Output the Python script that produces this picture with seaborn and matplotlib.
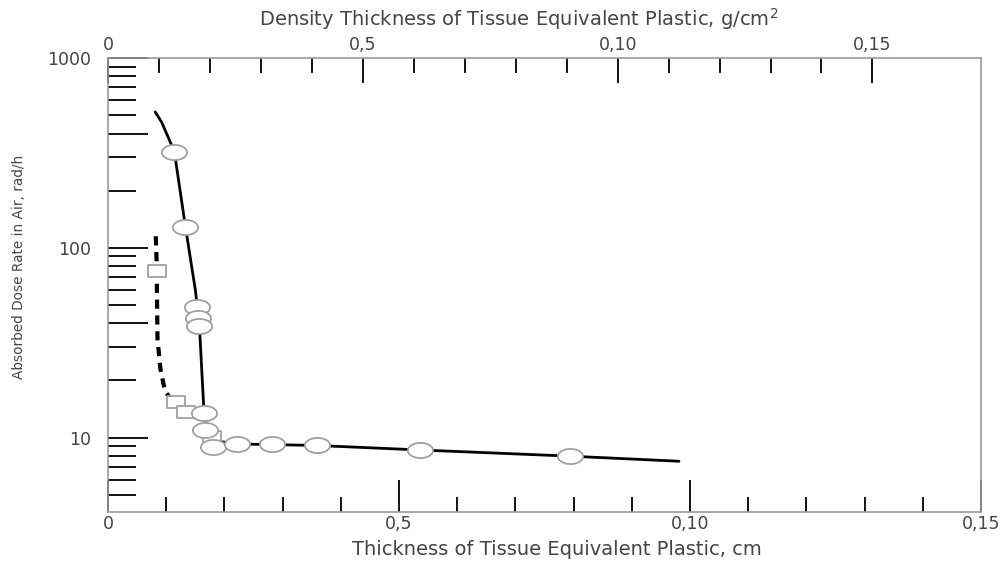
import numpy as np
import matplotlib
matplotlib.use("Agg")
import matplotlib.pyplot as plt
from matplotlib.path import Path
from matplotlib.ticker import FixedLocator, NullFormatter, FixedFormatter
import seaborn as sns

# measured points (thickness in cm, dose rate in rad/h)
circle_x = [0.0114, 0.0133, 0.0153, 0.0155, 0.0157, 0.0165, 0.0167, 0.0181, 0.0222, 0.0281, 0.0359, 0.0536, 0.0793]
circle_y = [320, 129, 48.9, 42.8, 38.9, 13.5, 11.0, 8.9, 9.2, 9.2, 9.1, 8.55, 7.95]

square_x = [0.00845, 0.0117, 0.01345, 0.0178]
square_y = [75, 15.3, 13.7, 10.1]

# fitted curves
solid_x = [0.0081, 0.0092, 0.0107, 0.0114, 0.0133, 0.0150, 0.0157, 0.0162, 0.0165, 0.0172, 0.0195, 0.0222, 0.0281, 0.0359, 0.0536, 0.0793, 0.0981]
solid_y = [520, 460, 360, 320, 129, 60, 38.9, 20, 13.5, 10.6, 9.5, 9.25, 9.18, 9.08, 8.6, 7.98, 7.5]

dash_x = [0.0082, 0.00835, 0.0084, 0.0085, 0.0090, 0.0098, 0.0108, 0.0117, 0.01345]
dash_y = [115, 85, 60, 33, 23, 17.5, 16.0, 15.3, 13.7]

x_ticks = [0, 0.05, 0.10, 0.15]
x_tick_labels = ["0", "0,5", "0,10", "0,15"]
top_tick_labels = ["0", "0,5", "0,10", "0,15"]
density = 1.142

sns.set_style("white")
plt.rcParams["font.family"] = ["DejaVu Sans"]
txt = "#444444"

fig = plt.figure(figsize=(10.04, 5.61), dpi=100)
ax = fig.add_axes([0.1076, 0.0873, 0.8695, 0.8093])

sns.lineplot(x=solid_x, y=solid_y, sort=False, estimator=None, color="black", lw=2, ax=ax, zorder=2)
sns.lineplot(x=dash_x, y=dash_y, sort=False, estimator=None, color="black", lw=3,
             linestyle=(0, (2.2, 1.6)), ax=ax, zorder=2)

# elongated markers like the original
t = np.linspace(0, 2 * np.pi, 60)
ellipse = Path(np.column_stack([np.cos(t), 0.6 * np.sin(t)]), closed=True)
rect = Path([(-1, -0.65), (1, -0.65), (1, 0.65), (-1, 0.65), (-1, -0.65)], closed=True)

sns.scatterplot(x=square_x, y=square_y, marker=rect, s=180, color="white", edgecolor="#a0a0a0",
                linewidth=1.3, ax=ax, zorder=3)
sns.scatterplot(x=circle_x, y=circle_y, marker=ellipse, s=330, color="white", edgecolor="#a0a0a0",
                linewidth=1.3, ax=ax, zorder=4)

ax.set_yscale("log")
ax.set_xlim(0, 0.15)
ax.set_ylim(4.05, 1000)

for s in ax.spines.values():
    s.set_color("#9a9a9a")
    s.set_linewidth(1.2)

# bottom axis
ax.xaxis.set_major_locator(FixedLocator(x_ticks))
ax.xaxis.set_major_formatter(FixedFormatter(x_tick_labels))
ax.xaxis.set_minor_locator(FixedLocator(np.arange(0.01, 0.15, 0.01)))
ax.tick_params(axis="x", which="major", direction="in", length=23, width=1.3, color="black",
               labelsize=12.5, labelcolor=txt, pad=2, bottom=True, top=False)
ax.tick_params(axis="x", which="minor", direction="in", length=11, width=1.3, color="black",
               bottom=True, top=False)

# left axis
y_major = [10, 40, 100, 400, 1000]
ax.yaxis.set_major_locator(FixedLocator(y_major))
ax.yaxis.set_major_formatter(FixedFormatter(["10", "", "100", "", "1000"]))
minor = [m * d for d in (1, 10, 100) for m in (2, 3, 5, 6, 7, 8, 9)]
ax.yaxis.set_minor_locator(FixedLocator([v for v in minor if 4 < v < 1000]))
ax.yaxis.set_minor_formatter(NullFormatter())
ax.tick_params(axis="y", which="major", direction="in", length=29, width=1.3, color="black",
               labelsize=12.5, labelcolor=txt, pad=12, left=True, right=False)
ax.tick_params(axis="y", which="minor", direction="in", length=20, width=1.3, color="black",
               left=True, right=False)

ax.set_xlabel("Thickness of Tissue Equivalent Plastic, cm", fontsize=14, color=txt)
ax.xaxis.set_label_coords(0.514, -0.062)
ax.set_ylabel("Absorbed Dose Rate in Air, rad/h", fontsize=9.8, color=txt,
              family=["Liberation Sans Narrow", "DejaVu Sans"])
ax.yaxis.set_label_coords(-0.094, 0.54)

# top axis in g/cm2
top = ax.secondary_xaxis("top", functions=(lambda x: x * density, lambda x: x / density))
top.xaxis.set_major_locator(FixedLocator(x_ticks))
top.xaxis.set_major_formatter(FixedFormatter(top_tick_labels))
top.xaxis.set_minor_locator(FixedLocator(np.arange(0.01, 0.16, 0.01)))
top.tick_params(which="major", direction="in", length=18, width=1.3, color="black",
                labelsize=12.5, labelcolor=txt, pad=3)
top.tick_params(which="minor", direction="in", length=11, width=1.3, color="black")
top.spines["top"].set_visible(False)
top.set_xlabel("Density Thickness of Tissue Equivalent Plastic, g/cm$^2$", fontsize=14, color=txt)
top.xaxis.set_label_coords(0.47, 1.072, transform=ax.transAxes)

fig.savefig("out.png", dpi=100)
